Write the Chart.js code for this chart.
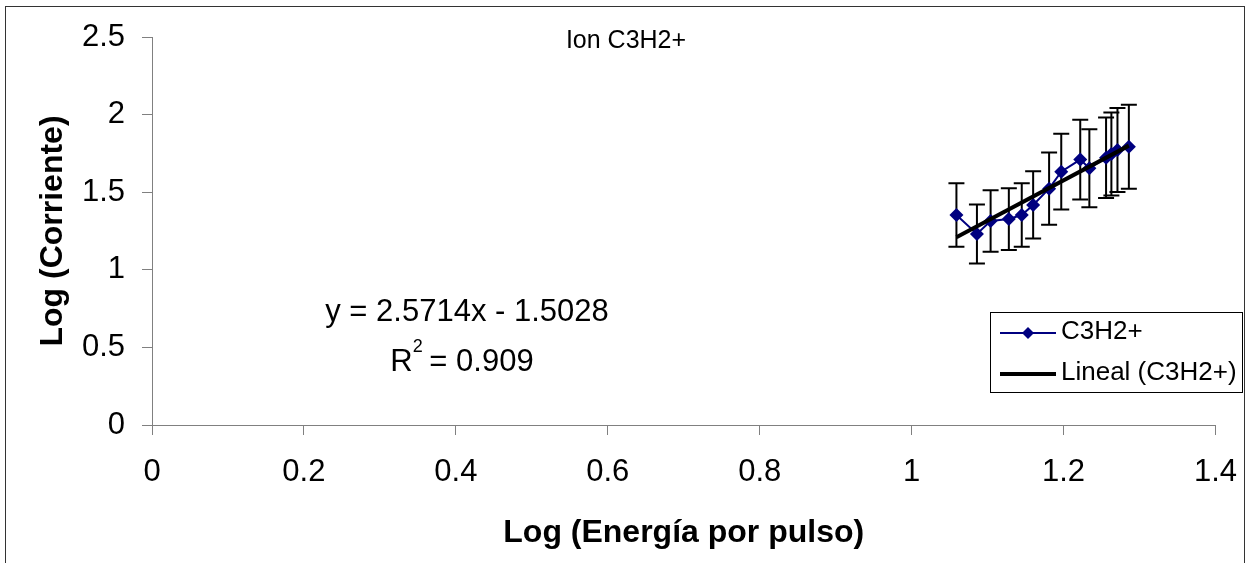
<!DOCTYPE html>
<html>
<head>
<meta charset="utf-8">
<script src="https://cdn.jsdelivr.net/npm/chart.js@4/dist/chart.umd.min.js"></script>
<style>
  body { margin: 0; background: #fff; }
  canvas { display: block; }
</style>
</head>
<body>
<canvas id="chart" width="1256" height="563"></canvas>
<script>
// values
const xValues = [1.059, 1.086, 1.104, 1.128, 1.145, 1.160, 1.181, 1.197, 1.222, 1.234, 1.256, 1.263, 1.271, 1.286];
const yValues = [1.353, 1.231, 1.314, 1.327, 1.353, 1.418, 1.523, 1.632, 1.710, 1.654, 1.722, 1.746, 1.772, 1.793];
const errValues = [0.205, 0.19, 0.198, 0.199, 0.205, 0.217, 0.232, 0.244, 0.257, 0.251, 0.259, 0.267, 0.27, 0.27];
const trendX = [1.059, 1.286];
const trendY = [1.21, 1.80];
const seriesLabels = ['C3H2+', 'Lineal (C3H2+)'];
const titleText = 'Ion C3H2+';
const equationLines = ['y = 2.5714x - 1.5028', '0.909'];

const FONT = 'Arial, "Liberation Sans", sans-serif';

// error bars drawn before the points so the diamonds sit on top
const errorBars = {
  id: 'errorBars',
  beforeDatasetsDraw(chart) {
    const { ctx, scales: { x, y } } = chart;
    ctx.save();
    ctx.strokeStyle = '#000';
    ctx.lineWidth = 2;
    xValues.forEach((xv, i) => {
      const px = x.getPixelForValue(xv);
      const top = y.getPixelForValue(yValues[i] + errValues[i]);
      const bot = y.getPixelForValue(yValues[i] - errValues[i]);
      ctx.beginPath();
      ctx.moveTo(px, top); ctx.lineTo(px, bot);
      ctx.moveTo(px - 8, top); ctx.lineTo(px + 8, top);
      ctx.moveTo(px - 8, bot); ctx.lineTo(px + 8, bot);
      ctx.stroke();
    });
    ctx.restore();
  }
};

// frame, title, equation and the boxed legend
const extras = {
  id: 'extras',
  beforeDraw(chart) {
    const ctx = chart.ctx;
    ctx.save();
    ctx.strokeStyle = '#333';
    ctx.lineWidth = 1;
    ctx.strokeRect(5.5, 6.5, 1239, 600);
    ctx.restore();
  },
  afterDraw(chart) {
    const ctx = chart.ctx;
    ctx.save();
    ctx.fillStyle = '#000';
    ctx.textBaseline = 'middle';
    ctx.textAlign = 'center';
    ctx.font = '25px ' + FONT;
    ctx.fillText(titleText, 626, 41);

    ctx.font = '31px ' + FONT;
    ctx.fillText(equationLines[0], 467, 312);
    ctx.textAlign = 'left';
    const rW = ctx.measureText('R').width;
    const rest = ' = ' + equationLines[1];
    const restW = ctx.measureText(rest).width;
    const sx = 463 - (rW + 10 + restW) / 2;
    ctx.fillText('R', sx, 362);
    ctx.font = '18px ' + FONT;
    ctx.fillText('2', sx + rW, 347);
    ctx.font = '31px ' + FONT;
    ctx.fillText(rest, sx + rW + 8, 362);

    // legend
    ctx.strokeStyle = '#000';
    ctx.lineWidth = 1;
    ctx.strokeRect(990.5, 312.5, 252, 80);
    ctx.font = '26px ' + FONT;
    const ds = chart.data.datasets;
    const rows = [333, 374];
    ds.forEach((d, i) => {
      const yy = rows[i];
      ctx.strokeStyle = d.borderColor;
      ctx.lineWidth = d.borderWidth;
      ctx.beginPath();
      ctx.moveTo(1000, yy); ctx.lineTo(1056, yy);
      ctx.stroke();
      if (d.pointRadius > 0) {
        ctx.fillStyle = d.pointBackgroundColor;
        ctx.beginPath();
        ctx.moveTo(1028, yy - 6); ctx.lineTo(1034, yy);
        ctx.lineTo(1028, yy + 6); ctx.lineTo(1022, yy);
        ctx.closePath();
        ctx.fill();
      }
      ctx.fillStyle = '#000';
      ctx.fillText(d.label, 1061, yy - 1);
    });
    ctx.restore();
  }
};

const tickText = (v) => String(Number(v.toFixed(2)));

const axisCommon = {
  type: 'linear',
  border: { display: true, color: '#808080', width: 1 },
  grid: { drawOnChartArea: false, drawTicks: true, tickLength: 10, color: '#808080' },
};

new Chart(document.getElementById('chart'), {
  type: 'scatter',
  data: {
    datasets: [
      {
        label: seriesLabels[0],
        data: xValues.map((xv, i) => ({ x: xv, y: yValues[i] })),
        showLine: true,
        borderColor: '#000080',
        borderWidth: 2,
        pointStyle: 'rectRot',
        pointRadius: 7,
        pointBackgroundColor: '#000080',
        pointBorderColor: '#000080',
        pointBorderWidth: 0,
        order: 1
      },
      {
        label: seriesLabels[1],
        data: trendX.map((xv, i) => ({ x: xv, y: trendY[i] })),
        showLine: true,
        borderColor: '#000',
        borderWidth: 4,
        pointRadius: 0,
        order: 0
      }
    ]
  },
  options: {
    responsive: false,
    animation: false,
    layout: { padding: { left: 0, right: 38, top: 37, bottom: 0 } },
    plugins: { legend: { display: false }, tooltip: { enabled: false } },
    scales: {
      x: {
        ...axisCommon,
        min: 0, max: 1.4,
        ticks: { stepSize: 0.2, color: '#000', padding: 19, callback: tickText,
                 font: { size: 31, family: FONT } },
        title: { display: true, text: 'Log (Energía por pulso)', color: '#000',
                 padding: { top: 0, bottom: 11 }, font: { size: 32, weight: 'bold', family: FONT } },
        afterFit: (s) => { s.height = 138; }
      },
      y: {
        ...axisCommon,
        min: 0, max: 2.5,
        ticks: { stepSize: 0.5, color: '#000', padding: 17, callback: tickText,
                 font: { size: 31, family: FONT } },
        title: { display: true, text: 'Log (Corriente)', color: '#000',
                 padding: { top: 34, bottom: 0 }, font: { size: 32, weight: 'bold', family: FONT } },
        afterFit: (s) => { s.width = 152; }
      }
    }
  },
  plugins: [errorBars, extras]
});
</script>
</body>
</html>
